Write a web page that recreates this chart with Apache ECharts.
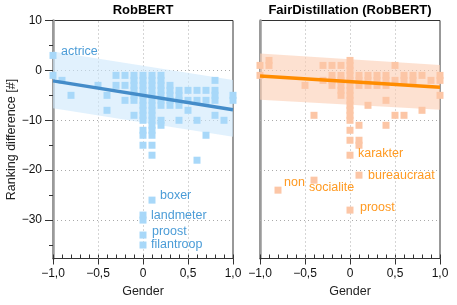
<!DOCTYPE html>
<html><head><meta charset="utf-8">
<script src="https://cdn.jsdelivr.net/npm/echarts@6/dist/echarts.min.js"></script>
<style>html,body{margin:0;padding:0;background:#fff}#c{width:457px;height:305px}</style>
</head><body><div id="c"></div>
<script>
// ---------- data ----------
const panelTitles = ['RobBERT', 'FairDistillation (RobBERT)'];
const xAxisName = 'Gender';
const yAxisName = 'Ranking difference [#]';
const xTickLabels = [-1, -0.5, 0, 0.5, 1];
const xMinorTicks = [-1, -0.9, -0.8, -0.7, -0.6, -0.5, -0.4, -0.3, -0.2, -0.1, 0, 0.1, 0.2, 0.3, 0.4, 0.5, 0.6, 0.7, 0.8, 0.9, 1];
const yTickLabels = [10, 0, -10, -20, -30];
const yMinorTicks = [5, -5, -15, -25, -35];
const xGridLines = [-0.5, 0, 0.5];
const yGridLines = [0, -10, -20, -30];

const genderBins = [-1, -0.9, -0.8, -0.5, -0.4, -0.3, -0.2, -0.1, 0, 0.1, 0.2, 0.3, 0.4, 0.5, 0.6, 0.7, 0.8, 0.9, 1];
const robbertValues = [
  [3, -1], [-2], [-5], [-3], [-5, -8], [-1, -3], [-1, -3, -6], [-1, -2, -3, -4, -5, -6, -9],
  [-1, -2, -3, -4, -5, -6, -7, -8, -9, -10, -12, -13, -15, -29, -30, -33, -35],
  [-1, -2, -3, -4, -5, -6, -7, -8, -9, -10, -11, -12, -13, -15, -17, -26],
  [-1, -2, -3, -4, -5, -6, -7, -10, -11], [-3, -4, -5, -6, -7], [-4, -5, -6, -7, -10],
  [-4, -6, -8], [-4, -6, -10, -18], [-4, -6, -13], [-2, -4, -5, -6, -9], [-10], [-5, -6]
];
const fairBins = [-1, -0.9, -0.8, -0.5, -0.4, -0.3, -0.2, -0.1, 0, 0.1, 0.2, 0.3, 0.4, 0.5, 0.6, 0.7, 0.8, 0.9, 1];
const fairValues = [
  [1, -1], [2, 1], [-24], [-3], [-9, -22], [1, -2], [1, -1, -2, -3], [1, -1, -2, -3, -4, -5],
  [2, 1, 0, -1, -2, -3, -4, -5, -6, -7, -8, -9, -10, -12, -14, -17, -28],
  [-1, -2, -3, -11, -14, -15, -21], [-1, -2, -3, -7], [-1, -2, -3], [-1, -2, -3, -6, -11],
  [1, -2, -9], [-1, -2, -9], [-1, -2], [-1, -8], [-2], [-1, -2, -5]
];
const robbertLabels = [['actrice', -1, 3], ['boxer', 0.1, -26], ['landmeter', 0, -29], ['proost', 0, -33], ['filantroop', 0, -35]];
const fairLabels = [['karakter', 0, -17], ['bureaucraat', 0.1, -21], ['non', -0.8, -24], ['socialite', -0.4, -22], ['proost', 0, -28]];

const fitX = [-1, 1];
const robbertFit = [-2.1, -7.9];
const robbertBandUpper = [3.8, -1.9];
const robbertBandLower = [-7.6, -13.3];
const fairFit = [-1.1, -3.4];
const fairBandUpper = [3.4, 1.1];
const fairBandLower = [-5.9, -7.9];

// ---------- styles ----------
const FONT = '"Liberation Sans", Helvetica, Arial, sans-serif';
const labelOffsets = [
  {actrice: [8, -4], boxer: [8, -5], landmeter: [8, 0], proost: [9, -4], filantroop: [8, 0]},
  {karakter: [8, -2], bureaucraat: [9, 0], non: [6, -8], socialite: [-5, 7], proost: [10, -3]}
];
const palette = [
  {point: '#a8d8f9', band: 'rgba(205,232,252,0.6)', line: '#448cc9', text: '#4b9cd7'},
  {point: '#fcc6a6', band: 'rgba(252,205,178,0.6)', line: '#ff8c00', text: '#ff9a22'}
];
const gridsPos = [{left: 53, top: 20.5, width: 180, height: 238}, {left: 260, top: 20.5, width: 180, height: 238}];
const Y_MIN = -37.7, Y_MAX = 10;

const fmtX = v => v === 0 ? '0' : (v < 0 ? '\u2212' : '') + Math.abs(v).toFixed(1).replace('.', ',');
const fmtY = v => (v < 0 ? '\u2212' : '') + Math.abs(v);

function buildPoints(bins, values, labels, p) {
  const out = [];
  bins.forEach((x, i) => {
    values[i].forEach(y => {
      const lab = labels.find(l => l[1] === x && l[2] === y);
      const item = {value: [x, y]};
      if (lab) {
        const off = labelOffsets[p][lab[0]];
        item.label = {show: true, formatter: lab[0], position: 'inside', align: 'left', verticalAlign: 'middle',
          offset: off, color: palette[p].text, fontSize: 12.5, fontFamily: FONT};
      }
      out.push(item);
    });
  });
  return out;
}

const grids = [], xAxes = [], yAxes = [], series = [], graphics = [];
[0, 1].forEach(p => {
  const bins = p === 0 ? genderBins : fairBins;
  const vals = p === 0 ? robbertValues : fairValues;
  const labs = p === 0 ? robbertLabels : fairLabels;
  const fit = p === 0 ? robbertFit : fairFit;
  const up = p === 0 ? robbertBandUpper : fairBandUpper;
  const lo = p === 0 ? robbertBandLower : fairBandLower;
  const gi = grids.length;
  grids.push(Object.assign({show: true, borderColor: '#333', borderWidth: 1, backgroundColor: '#fff', containLabel: false}, gridsPos[p]));
  const xi = xAxes.length, yi = yAxes.length;
  xAxes.push({
    gridIndex: gi, type: 'value', min: -1, max: 1, position: 'bottom',
    name: xAxisName, nameLocation: 'middle', nameGap: 27,
    nameTextStyle: {fontSize: 12.5, color: '#222', fontFamily: FONT},
    axisLine: {show: true, onZero: false, lineStyle: {color: '#333', width: 1}},
    axisTick: {show: true, customValues: xTickLabels, length: 6, inside: false, lineStyle: {color: '#333'}},
    axisLabel: {show: true, customValues: xTickLabels, formatter: fmtX, margin: 9, fontSize: 12, color: '#111', fontFamily: FONT},
    splitLine: {show: false}
  });
  yAxes.push({
    gridIndex: gi, type: 'value', min: Y_MIN, max: Y_MAX, position: 'left',
    name: p === 0 ? yAxisName : '', nameLocation: 'middle', nameGap: 34,
    nameTextStyle: {fontSize: 12.5, color: '#222', fontFamily: FONT},
    axisLine: {show: true, onZero: false, lineStyle: {color: '#9a9a9a', width: 2.5}},
    axisTick: {show: p === 0, customValues: yTickLabels, length: 8, lineStyle: {color: '#333'}},
    axisLabel: {show: p === 0, customValues: yTickLabels, formatter: fmtY, margin: 11, fontSize: 12, color: '#111', fontFamily: FONT},
    splitLine: {show: false}
  });
  // band
  series.push({
    type: 'custom', xAxisIndex: xi, yAxisIndex: yi, z: 2, silent: true, data: [[0, 0]],
    encode: {x: 0, y: 1},
    renderItem: (params, api) => {
      const pts = [];
      for (let i = 0; i < fitX.length; i++) pts.push(api.coord([fitX[i], up[i]]));
      for (let i = fitX.length - 1; i >= 0; i--) pts.push(api.coord([fitX[i], lo[i]]));
      return {type: 'polygon', shape: {points: pts}, style: {fill: palette[p].band}};
    },
    markLine: {
      silent: true, z: 1, symbol: ['none', 'none'], animation: false, label: {show: false},
      lineStyle: {color: '#aaa', width: 1, type: [1, 3]},
      data: xGridLines.map(v => ({xAxis: v})).concat(yGridLines.map(v => ({yAxis: v})))
    }
  });
  // points
  series.push({
    type: 'scatter', xAxisIndex: xi, yAxisIndex: yi, z: 3, clip: false, silent: true,
    symbol: 'rect', symbolSize: 7,
    itemStyle: {color: palette[p].point, opacity: 1},
    data: buildPoints(bins, vals, labs, p)
  });
  // fit line
  series.push({
    type: 'line', xAxisIndex: xi, yAxisIndex: yi, z: 4, silent: true, symbol: 'none',
    lineStyle: {color: palette[p].line, width: 3.5},
    data: fitX.map((x, i) => [x, fit[i]])
  });

  // overlay grid for minor ticks
  const og = grids.length;
  grids.push(Object.assign({show: false, containLabel: false}, gridsPos[p]));
  xAxes.push({
    gridIndex: og, type: 'value', min: -1, max: 1, position: 'bottom',
    axisLine: {show: false, onZero: false},
    axisTick: {show: true, customValues: xMinorTicks, length: 4, inside: true, lineStyle: {color: '#333'}},
    axisLabel: {show: false}, splitLine: {show: false}
  });
  yAxes.push({
    gridIndex: og, type: 'value', min: Y_MIN, max: Y_MAX, position: 'left',
    axisLine: {show: false, onZero: false},
    axisTick: {show: p === 0, customValues: yMinorTicks, length: 4, lineStyle: {color: '#333'}},
    axisLabel: {show: false}, splitLine: {show: false}
  });

  graphics.push({
    type: 'text', x: gridsPos[p].left + gridsPos[p].width / 2, y: 4, z: 10,
    style: {text: panelTitles[p], textAlign: 'center', textVerticalAlign: 'top', fill: '#000',
      font: 'bold 13px ' + FONT}
  });
});

const chart = echarts.init(document.getElementById('c'), null, {renderer: 'canvas'});
chart.setOption({
  animation: false,
  backgroundColor: '#fff',
  grid: grids, xAxis: xAxes, yAxis: yAxes, series: series, graphic: graphics
});
</script>
</body></html>
